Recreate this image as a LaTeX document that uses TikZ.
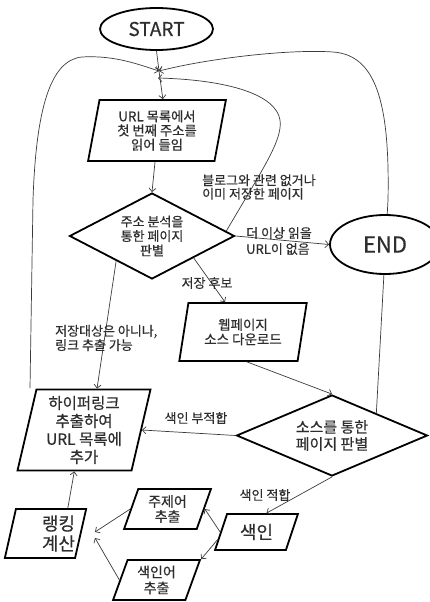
\documentclass[tikz,border=0pt]{standalone}
\usepackage{fontspec}
\setmainfont[FakeBold=0.5]{Noto Sans CJK KR}
\usetikzlibrary{shapes.geometric,arrows.meta,calc}
\definecolor{txt}{HTML}{2E2E2E}
\definecolor{lin}{HTML}{3A3A3A}
\tikzset{
  box/.style={trapezium, trapezium stretches=true, draw=black, line width=1.8pt,
    inner sep=0pt, align=center, text=txt, fill=white},
  dia/.style={diamond, draw=black, line width=1.8pt, inner sep=0pt, align=center,
    aspect=2, text=txt, fill=white},
  oval/.style={ellipse, draw=black, line width=1.8pt, inner sep=0pt, fill=white, text=txt},
  conn/.style={draw=lin, line width=0.7pt, -{Straight Barb[length=3.5pt,width=7pt]}},
  lbl/.style={inner sep=0pt, align=left, text=txt, font=\fontsize{13}{13.5}\selectfont},
}
\begin{document}
\begin{tikzpicture}[x=1pt,y=-1pt]
\useasboundingbox (0,0) rectangle (430,602);

% nodes
\node[oval, minimum width=113pt, minimum height=42pt, font=\fontsize{19}{22}\selectfont] (start) at (156.5,29) {START};
\node[box, trapezium left angle=79, trapezium right angle=101, minimum width=138pt, minimum height=61pt,
  font=\fontsize{13.3}{14.2}\selectfont] (b1) at (157,130.5) {URL 목록에서\\첫 번째 주소를\\읽어 들임};
\node[dia, minimum width=165pt, minimum height=86pt, aspect=1.92, font=\fontsize{13}{14.5}\selectfont] (d1) at (152,236) {주소 분석을\\통한 페이지\\판별};
\node[box, trapezium left angle=76.4, trapezium right angle=103.6, minimum width=128pt, minimum height=58pt,
  font=\fontsize{13.5}{14.5}\selectfont] (b2) at (243,332) {웹페이지\\소스 다운로드};
\node[dia, minimum width=191pt, minimum height=81pt, aspect=2.36, font=\fontsize{15}{17}\selectfont] (d2) at (332,435.5) {소스를 통한\\페이지 판별};
\node[box, trapezium left angle=77.5, trapezium right angle=102.5, minimum width=133pt, minimum height=81pt,
  font=\fontsize{15.5}{18}\selectfont] (hl) at (84,430) {하이퍼링크\\추출하여\\URL 목록에\\추가};
\node[box, trapezium left angle=67.4, trapezium right angle=112.6, minimum width=83pt, minimum height=36pt,
  font=\fontsize{18}{20}\selectfont] (s) at (256.5,532) {색인};
\node[box, trapezium left angle=71.3, trapezium right angle=108.7, minimum width=87pt, minimum height=40pt,
  font=\fontsize{14}{15}\selectfont] (j) at (167.5,509) {주제어\\추출};
\node[box, trapezium left angle=71.3, trapezium right angle=108.7, minimum width=87pt, minimum height=40pt,
  font=\fontsize{14}{16}\selectfont] (k) at (156.5,580) {색인어\\추출};
\node[box, trapezium left angle=73, trapezium right angle=107, minimum width=75pt, minimum height=49pt,
  font=\fontsize{18}{20}\selectfont] (r) at (45.5,533.5) {\hspace*{26pt}랭킹\\\hspace*{26pt}계산};

% merge points and free ends
\coordinate (m) at (159,71);
\coordinate (m2) at (158,78);
\coordinate (lc) at (30,388);
\coordinate (ra) at (95,532);
\coordinate (rb) at (95,538);

% curves back to the top (drawn first so END covers the right one)
\draw[conn] (lc) -- (33,200) .. controls (36,110) and (50,60) .. (82,57)
  .. controls (115,55) and (140,65) .. (m);
\draw[conn] ($(d2.north)!0.46!(d2.east)$) -- (388,200) .. controls (390,100) and (375,55) .. (333,52)
  .. controls (290,49) and (210,58) .. (m);
\draw[conn] ($(d1.north)!0.89!(d1.east)$) .. controls (262,170) and (283,140) .. (280,120)
  .. controls (276,95) and (230,80) .. (m2);

\node[oval, minimum width=110pt, minimum height=59pt, font=\fontsize{22}{26}\selectfont] (end) at (385,244.5) {END};

% straight connectors
\draw[conn] (start.south) -- (m);
\draw[conn] (m) -- (b1.top side);
\draw[conn] ($(b1.south)+(-2,0)$) -- (d1.north);
\draw[conn] (d1.east) -- (end.west);
\draw[conn] ($(d1.east)!0.5!(d1.south)$) -- ($(b2.north)+(-18,0)$);
\draw[conn] ($(d1.west)!0.57!(d1.south)$) -- ($(hl.north)+(13,0)$);
\draw[conn] ($(b2.south)+(4,0)$) -- (d2.north);
\draw[conn] (d2.west) -- (hl.right side);
\draw[conn] (d2.south) -- ($(s.north)+(10,0)$);
\draw[conn] (s.left side) -- (j.right side);
\draw[conn] ($(s.left side)!0.4!(s.bottom left corner)$) -- (k.top right corner);
\draw[conn] (j.left side) -- (ra);
\draw[conn] (k.left side) -- (rb);
\draw[conn] ($(r.top left corner)!0.73!(r.top right corner)$) -- (hl.bottom side);

% labels
\node[lbl, anchor=west] (l1) at (202,187) {블로그와 관련 없거나\\이미 저장한 페이지};
\node[lbl, anchor=west, font=\fontsize{13}{16}\selectfont] (l2) at (246,241) {더 이상 읽을\\URL이 없음};
\node[lbl] (l3) at (207,283) {저장 후보};
\node[lbl, anchor=west, font=\fontsize{13}{12.8}\selectfont] (l4) at (55,338) {저장대상은 아니나,\\링크 추출 가능};
\node[lbl] (l5) at (196,418) {색인 부적합};
\node[lbl] (l6) at (265,495) {색인 적합};
\end{tikzpicture}
\end{document}
